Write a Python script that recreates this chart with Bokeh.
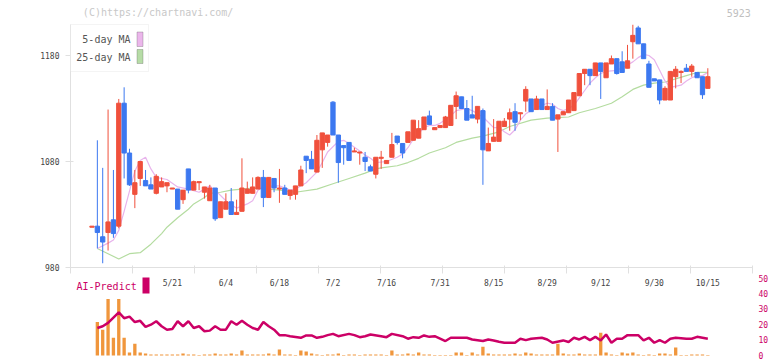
from bokeh.plotting import figure
from bokeh.layouts import column
from bokeh.models import ColumnDataSource, FixedTicker, Label, BoxAnnotation, Range1d
from bokeh.embed import file_html
from bokeh.resources import INLINE
from bokeh.core.properties import value

# ---------------- data ----------------
opens = [1018, 1019, 1009, 1013, 1025, 1019, 1135, 1088, 1049, 1064,
         1062, 1058, 1050, 1056, 1057, 1054, 1054, 1044, 1073, 1053,
         1060, 1051, 1043, 1055, 1027, 1035, 1042, 1030, 1033, 1050,
         1050, 1054, 1065, 1046, 1064, 1054, 1055, 1048, 1049, 1057,
         1085, 1082, 1070, 1091, 1098, 1136, 1105, 1095, 1098, 1089,
         1088, 1084, 1075, 1068, 1083, 1078, 1084, 1104, 1097, 1098,
         1100, 1102, 1110, 1123, 1110, 1112, 1112, 1114, 1132, 1141,
         1130, 1124, 1120, 1128, 1090, 1099, 1099, 1113, 1120, 1127,
         1125, 1137, 1139, 1129, 1139, 1129, 1132, 1120, 1124, 1126,
         1128, 1142, 1163, 1167, 1161, 1173, 1159, 1172, 1177, 1174,
         1168, 1193, 1206, 1191, 1172, 1158, 1157, 1138, 1138, 1160,
         1164, 1168, 1165, 1164, 1160, 1149]
highs = [1019, 1100, 1074, 1129, 1072, 1139, 1150, 1092, 1072, 1080,
         1072, 1065, 1068, 1065, 1060, 1055, 1054, 1053, 1073, 1062,
         1061, 1056, 1058, 1055, 1042, 1050, 1055, 1044, 1083, 1061,
         1065, 1066, 1072, 1065, 1064, 1073, 1058, 1053, 1057, 1076,
         1085, 1090, 1105, 1107, 1105, 1137, 1105, 1095, 1098, 1093,
         1089, 1089, 1077, 1084, 1090, 1081, 1107, 1104, 1097, 1108,
         1119, 1119, 1122, 1128, 1112, 1114, 1123, 1133, 1146, 1141,
         1138, 1142, 1132, 1130, 1112, 1120, 1118, 1121, 1130, 1135,
         1126, 1151, 1139, 1142, 1139, 1148, 1135, 1124, 1127, 1138,
         1145, 1163, 1167, 1167, 1173, 1173, 1173, 1180, 1177, 1184,
         1190, 1209, 1208, 1191, 1175, 1158, 1157, 1151, 1165, 1170,
         1166, 1172, 1172, 1164, 1160, 1168]
lows = [1018, 998, 984, 996, 1008, 1017, 1064, 1057, 1036, 1057,
        1057, 1054, 1049, 1056, 1051, 1054, 1035, 1040, 1050, 1053,
        1053, 1045, 1043, 1024, 1027, 1035, 1030, 1030, 1033, 1050,
        1050, 1054, 1037, 1046, 1051, 1041, 1049, 1044, 1044, 1057,
        1069, 1073, 1070, 1074, 1094, 1105, 1060, 1077, 1081, 1089,
        1077, 1071, 1071, 1064, 1073, 1078, 1084, 1096, 1083, 1098,
        1100, 1102, 1110, 1115, 1110, 1112, 1112, 1114, 1120, 1130,
        1119, 1121, 1116, 1058, 1090, 1099, 1099, 1113, 1109, 1109,
        1119, 1127, 1127, 1129, 1129, 1129, 1119, 1089, 1124, 1126,
        1128, 1142, 1152, 1152, 1161, 1139, 1159, 1172, 1162, 1164,
        1168, 1177, 1191, 1177, 1150, 1156, 1134, 1138, 1138, 1149,
        1154, 1165, 1160, 1159, 1139, 1149]
closes = [1019, 1013, 1004, 1023, 1012, 1135, 1088, 1058, 1060, 1080,
          1057, 1054, 1066, 1061, 1060, 1055, 1035, 1053, 1053, 1061,
          1061, 1056, 1055, 1026, 1042, 1042, 1030, 1032, 1055, 1054,
          1056, 1065, 1046, 1065, 1055, 1055, 1049, 1053, 1057, 1072,
          1081, 1073, 1100, 1107, 1105, 1105, 1079, 1093, 1081, 1090,
          1089, 1080, 1071, 1084, 1084, 1081, 1096, 1098, 1088, 1108,
          1119, 1111, 1122, 1115, 1112, 1114, 1122, 1133, 1142, 1130,
          1119, 1121, 1132, 1091, 1097, 1103, 1118, 1118, 1126, 1117,
          1126, 1148, 1127, 1139, 1129, 1132, 1119, 1124, 1127, 1138,
          1145, 1163, 1167, 1161, 1173, 1165, 1173, 1177, 1163, 1164,
          1175, 1199, 1191, 1177, 1150, 1156, 1138, 1149, 1165, 1167,
          1165, 1165, 1170, 1159, 1143, 1160]

ma5_idx = [1, 3, 4, 5, 6, 7, 8, 9, 10, 11, 12, 14, 16, 18, 20, 22, 23, 25, 27, 29,
           30, 31, 32, 34, 35, 37, 38, 40, 41, 42, 43, 44, 46, 47, 48, 50, 51, 52, 53, 55,
           57, 58, 59, 60, 62, 63, 64, 65, 67, 68, 70, 71, 72, 73, 74, 75, 76, 77, 78, 79,
           80, 81, 82, 84, 85, 86, 87, 88, 89, 90, 91, 92, 93, 94, 95, 96, 98, 100, 101, 102,
           103, 104, 105, 106, 107, 108, 110, 111, 112, 113, 114, 115]
ma5_val = [998, 1003, 1006, 1015, 1033, 1052, 1071, 1081, 1084, 1073, 1065, 1063, 1056, 1054, 1051, 1057, 1053, 1043, 1036, 1040,
           1043, 1053, 1056, 1057, 1057, 1053, 1054, 1060, 1065, 1070, 1079, 1089, 1099, 1100, 1097, 1090, 1086, 1083, 1079, 1080,
           1084, 1087, 1093, 1101, 1112, 1114, 1114, 1116, 1123, 1128, 1130, 1128, 1125, 1122, 1117, 1112, 1112, 1108, 1105, 1110,
           1119, 1125, 1128, 1133, 1135, 1134, 1130, 1128, 1130, 1133, 1140, 1147, 1154, 1159, 1163, 1165, 1166, 1171, 1174, 1178,
           1181, 1180, 1176, 1166, 1156, 1150, 1152, 1156, 1159, 1161, 1161, 1164]

ma25_idx = [1, 3, 5, 7, 9, 11, 13, 14, 16, 18, 19, 21, 22, 24, 26, 28, 30, 33, 35, 38,
            42, 45, 48, 51, 53, 54, 57, 59, 61, 63, 66, 68, 71, 73, 76, 78, 82, 85, 89, 91,
            94, 97, 99, 101, 103, 105, 107, 109, 111, 113, 115]
ma25_val = [998, 993, 988, 993, 994, 1002, 1012, 1018, 1027, 1035, 1040, 1046, 1050, 1051, 1053, 1054, 1055, 1054, 1053, 1051,
            1054, 1059, 1064, 1069, 1073, 1074, 1076, 1079, 1083, 1088, 1093, 1098, 1102, 1104, 1108, 1113, 1119, 1121, 1122, 1126,
            1130, 1135, 1141, 1148, 1152, 1154, 1155, 1158, 1161, 1164, 1164]

vol_idx = list(range(1, 116))
vol_val = [21.5, 16.5, 36.3, 11.4, 36.3, 11.4, 1.9, 7.6, 1.9, 1.3,
           0.6, 0.6, 0.6, 0.6, 0.6, 0.6, 1.3, 0.6, 0.6, 0.3,
           0.6, 0.6, 1.3, 0.6, 0.6, 1.3, 0.6, 3.2, 0.6, 0.6,
           0.6, 0.6, 1.3, 0.6, 3.8, 0.6, 0.6, 0.3, 3.2, 2.5,
           1.3, 0.6, 0.3, 0.6, 0.6, 1.3, 0.3, 0.6, 0.6, 0.3,
           0.6, 0.6, 0.6, 0.6, 0.3, 3.2, 0.6, 0.6, 1.3, 0.6,
           1.9, 0.6, 0.6, 0.3, 0.3, 0.3, 0.3, 1.9, 1.9, 0.3,
           1.9, 0.6, 5.7, 1.3, 0.6, 0.6, 0.6, 0.6, 1.3, 0.6,
           1.9, 1.3, 0.6, 0.6, 0.6, 0.6, 7.6, 1.3, 0.6, 0.6,
           1.3, 0.6, 0.6, 0.6, 14.6, 1.9, 0.6, 0.3, 1.9, 1.3,
           1.9, 0.6, 0.3, 0.6, 0.3, 1.3, 1.3, 0.6, 5.1, 0.3,
           0.3, 0.6, 0.6, 0.6, 0.3]

ai_idx = [1, 2, 3, 5, 6, 7, 8, 9, 10, 11, 12, 13, 14, 15, 16, 17, 18, 19, 20, 21,
          22, 23, 24, 25, 26, 27, 28, 29, 30, 31, 32, 33, 34, 35, 36, 37, 39, 40, 41, 42,
          43, 44, 45, 46, 48, 49, 50, 51, 52, 54, 55, 56, 58, 59, 60, 61, 62, 63, 64, 66,
          67, 69, 70, 71, 72, 73, 74, 75, 76, 77, 79, 80, 81, 82, 84, 85, 86, 88, 89, 90,
          91, 92, 93, 94, 95, 96, 97, 98, 99, 100, 102, 103, 104, 105, 106, 107, 108, 109, 111, 112,
          113, 115]
ai_val = [17.7, 18.8, 21.0, 27.8, 24.0, 25.0, 21.5, 22.3, 18.4, 19.8, 22.0, 18.8, 16.6, 17.1, 22.0, 18.8, 22.0, 17.7, 18.8, 15.6,
          16.0, 18.8, 16.6, 16.6, 22.0, 19.8, 22.3, 19.8, 17.7, 16.6, 21.5, 18.8, 16.6, 13.1, 13.1, 12.4, 11.4, 12.9, 12.9, 11.4,
          12.0, 13.1, 13.9, 12.4, 13.9, 13.1, 11.8, 12.4, 13.5, 12.4, 11.8, 13.9, 12.4, 10.8, 11.8, 11.4, 12.9, 12.0, 12.4, 9.3,
          11.4, 11.4, 11.4, 10.3, 9.8, 9.3, 10.3, 9.7, 8.9, 8.2, 8.2, 10.8, 9.9, 10.8, 11.4, 10.3, 8.2, 9.7, 8.7, 11.4,
          10.3, 12.0, 9.9, 12.0, 9.7, 13.5, 8.2, 10.8, 10.8, 13.1, 13.1, 9.7, 11.4, 8.2, 9.9, 8.2, 10.8, 11.4, 10.8, 10.8,
          12.0, 10.8]

date_idx = [15, 25, 35, 45, 55, 65, 75, 85, 95, 105, 115]
date_lbl = ["5/21", "6/4", "6/18", "7/2", "7/16", "7/31", "8/15", "8/29", "9/12", "9/30", "10/15"]
price_ticks = [980, 1080, 1180]
ai_ticks = [0, 10, 20, 30, 40, 50]
header_left = "(C)https://chartnavi.com/"
header_right = "5923"

# ---------------- layout constants ----------------
FONT = "DejaVu Sans Mono"
UP, DOWN = "#f0503c", "#3c78f0"
AXC = "#e0e0e0"
MAG = "#cc0066"
W = 772
STEP = 5.355            # px per trading day
X0 = -4.015             # x value at left frame edge (page x = 70)
FRAME_W = 682
X1 = X0 + FRAME_W / STEP


def ix(xr):   # page pixel x -> x value (for decorations)
    return (xr - 91.5) / STEP


def py(yr):   # page pixel y -> price (for decorations)
    return 1180 + (55 - yr) * 200 / 212


def ay(yr):   # page pixel y -> lower panel value
    return (355 - yr) / 1.555


n = len(opens)
src = ColumnDataSource(dict(
    x=list(range(n)), h=highs, l=lows,
    top=[max(o, c) for o, c in zip(opens, closes)],
    bot=[min(o, c) for o, c in zip(opens, closes)],
    color=[UP if c >= o else DOWN for o, c in zip(opens, closes)],
))


def clean(p):
    p.outline_line_color = None
    p.xgrid.visible = False
    p.ygrid.visible = False
    p.background_fill_color = "white"
    p.border_fill_color = "white"


# ---------------- header strip ----------------
p0 = figure(width=W, height=18, x_range=Range1d(0, W), y_range=Range1d(18, 0),
            x_axis_location=None, y_axis_location=None,
            output_backend="svg", toolbar_location=None,
            min_border_left=0, min_border_right=0, min_border_top=0, min_border_bottom=0)
clean(p0)
p0.text(x=[14], y=[12], text=[header_left], text_font=value(FONT), text_font_size="10px",
        text_color="#c8c8c8", text_align="left", text_baseline="middle")
p0.text(x=[770], y=[12], text=[header_right], text_font=value(FONT), text_font_size="10px",
        text_color="#c0c0c0", text_align="right", text_baseline="middle")

# ---------------- main price panel ----------------
p1 = figure(width=W, height=256, x_range=Range1d(X0, X1), y_range=Range1d(py(267), py(18)),
            output_backend="svg", toolbar_location=None,
            min_border_left=70, min_border_right=20, min_border_top=0, min_border_bottom=7)
clean(p1)

p1.line(ma25_idx, ma25_val, line_color="#b4dca0", line_width=1.2)
p1.line(ma5_idx, ma5_val, line_color="#e8b4ec", line_width=1.2)
p1.segment(x0="x", x1="x", y0="l", y1="h", line_color="color", line_width=1, source=src)
p1.vbar(x="x", width=0.8, top="top", bottom="bot", fill_color="color", line_color="color",
        line_width=1, source=src)

ya = p1.yaxis[0]
ya.ticker = FixedTicker(ticks=price_ticks)
ya.bounds = (py(267), py(24))
ya.axis_line_color = AXC
ya.major_tick_line_color = AXC
ya.minor_tick_line_color = None
ya.major_tick_in = 3
ya.major_tick_out = 5
ya.major_label_standoff = 6
ya.major_label_text_font = FONT
ya.major_label_text_font_size = "8px"
ya.major_label_text_color = "#444444"

xa = p1.xaxis[0]
xa.ticker = FixedTicker(ticks=[X0 + k * (X1 - X0) / 11 for k in range(12)])
xa.axis_line_color = AXC
xa.major_tick_line_color = AXC
xa.minor_tick_line_color = None
xa.major_tick_in = 2
xa.major_tick_out = 6
xa.major_label_standoff = 0
xa.major_label_text_font_size = "1px"
xa.major_label_text_color = None

# legend (drawn by hand so the swatch sits right of the label)
p1.add_layout(BoxAnnotation(left=ix(70), right=ix(148), top=py(24), bottom=py(71),
                            fill_color="white", fill_alpha=1, line_color="#dcdcdc", line_width=1))
p1.add_layout(BoxAnnotation(left=ix(136.5), right=ix(142.5), top=py(31.5), bottom=py(46),
                            fill_color="#ebb6eb", fill_alpha=1, line_color="#555555", line_width=1))
p1.add_layout(BoxAnnotation(left=ix(136.5), right=ix(142.5), top=py(49), bottom=py(63),
                            fill_color="#b6dca6", fill_alpha=1, line_color="#555555", line_width=1))
p1.add_layout(Label(x=ix(130), y=py(38.5), text="5-day MA", text_align="right", text_baseline="middle",
                    text_font=FONT, text_font_size="10px", text_color="#555555"))
p1.add_layout(Label(x=ix(130), y=py(57), text="25-day MA", text_align="right", text_baseline="middle",
                    text_font=FONT, text_font_size="10px", text_color="#555555"))

# ---------------- AI-Predict panel ----------------
p2 = figure(width=W, height=87, x_range=p1.x_range, y_range=Range1d(ay(361), ay(274)),
            y_axis_location="right", x_axis_location=None,
            output_backend="svg", toolbar_location=None,
            min_border_left=70, min_border_right=20, min_border_top=0, min_border_bottom=0)
clean(p2)

p2.vbar(x=vol_idx, width=0.62, top=vol_val, bottom=0, fill_color="#f0963c", line_color=None)
p2.line(ai_idx, ai_val, line_color=MAG, line_width=2.5)
p2.text(x=date_idx, y=[ay(283)] * len(date_idx), text=date_lbl, text_font=value(FONT),
        text_font_size="8px", text_color="#444444", text_align="center", text_baseline="middle")

ra = p2.yaxis[0]
ra.ticker = FixedTicker(ticks=ai_ticks)
ra.axis_line_color = None
ra.major_tick_line_color = None
ra.minor_tick_line_color = None
ra.major_tick_out = 0
ra.major_tick_in = 0
ra.major_label_standoff = 6
ra.major_label_text_font = FONT
ra.major_label_text_font_size = "8px"
ra.major_label_text_color = MAG

p2.add_layout(Label(x=ix(76), y=ay(286), text="AI-Predict", text_align="left", text_baseline="middle",
                    text_font=FONT, text_font_size="10px", text_color=MAG))
p2.add_layout(BoxAnnotation(left=ix(142), right=ix(149), top=ay(277), bottom=ay(293),
                            fill_color=MAG, fill_alpha=1, line_color=None))

layout = column(p0, p1, p2, spacing=0)
open("out.html", "w").write(file_html(layout, INLINE))
